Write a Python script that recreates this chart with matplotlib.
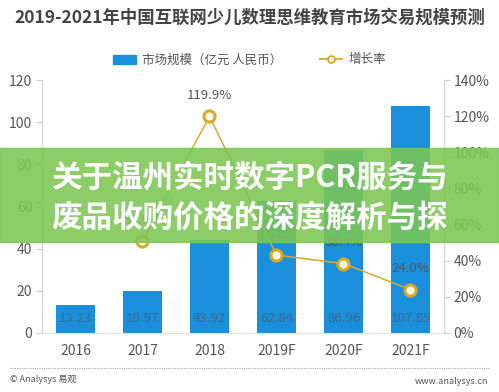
import matplotlib
matplotlib.use("Agg")
import matplotlib.pyplot as plt
from matplotlib.lines import Line2D
from matplotlib.patches import Patch, Rectangle

plt.rcParams['font.family'] = ['Noto Sans CJK SC', 'DejaVu Sans']

# data
years = ['2016', '2017', '2018', '2019F', '2020F', '2021F']
market = [13.23, 19.97, 43.92, 62.84, 86.96, 107.85]
growth = [None, 50.9, 119.9, 43.1, 38.4, 24.0]
left_ticks = [0, 20, 40, 60, 80, 100, 120]
right_ticks = [0, 20, 40, 60, 80, 100, 120, 140]

BLUE = '#1a8fdc'
GOLD = '#d6aa2c'
GRAY = '#555555'

W, H = 499, 392
fig = plt.figure(figsize=(W / 100, H / 100), dpi=100)
fig.patch.set_facecolor('white')

ax = fig.add_axes([42 / W, (H - 333) / H, (444 - 42) / W, (333 - 80) / H])
x = list(range(len(years)))
ax.bar(x, market, width=0.57, color=BLUE, zorder=2)
for xi, v in zip(x, market):
    ax.text(xi, 7, f'{v:.2f}', ha='center', va='center', fontsize=9.5,
            color='#3d6a8c', zorder=3)

ax.set_xlim(-0.5, len(years) - 0.5)
ax.set_ylim(0, 120)
ax.set_yticks(left_ticks)
ax.set_xticks(x)
ax.set_xticklabels(years)
ax.tick_params(axis='x', length=0, pad=8, labelsize=10, colors=GRAY)
ax.tick_params(axis='y', length=4, width=0.8, color='#cccccc', labelsize=10,
               labelcolor=GRAY, pad=3)
for s in ['top', 'right']:
    ax.spines[s].set_visible(False)
ax.spines['left'].set_color('#d5d5d5')
ax.spines['bottom'].set_color('#e0e0e0')

ax2 = ax.twinx()
gx = [xi for xi, g in zip(x, growth) if g is not None]
gy = [g for g in growth if g is not None]
ax2.plot(gx, gy, color=GOLD, lw=1.1, marker='o', ms=8, mfc='#fffbe8',
         mec=GOLD, mew=2.2, zorder=4)
for xi, g in zip(gx, gy):
    ax2.text(xi, g + 8, f'{g:.1f}%', ha='center', va='bottom', fontsize=9.5,
             color=GRAY)
ax2.set_ylim(0, 140)
ax2.set_yticks(right_ticks)
ax2.set_yticklabels([f'{t}%' for t in right_ticks])
ax2.tick_params(axis='y', length=4, width=0.8, color='#cccccc', labelsize=10,
                labelcolor=GRAY, pad=3)
for s in ['top', 'left', 'bottom']:
    ax2.spines[s].set_visible(False)
ax2.spines['right'].set_color('#d5d5d5')

# title and legend
fig.text(0.5, 1 - 18 / H, '2019-2021年中国互联网少儿数理思维教育市场交易规模预测',
         ha='center', va='center', fontsize=12.5, fontweight='bold', color='#444444')
handles = [Patch(color=BLUE),
           Line2D([0], [0], color=GOLD, lw=1.3, marker='o', ms=5, mfc='white',
                  mec=GOLD, mew=1.3)]
fig.legend(handles, ['市场规模（亿元 人民币）', '增长率'], ncol=2, frameon=False,
           loc='center', bbox_to_anchor=(0.5, 1 - 60 / H), fontsize=9,
           labelcolor=GRAY, columnspacing=3, handlelength=1.8, handletextpad=0.5)

# footer
fig.add_artist(Line2D([10 / W, 490 / W], [1 - 368 / H] * 2, color='#aaaaaa',
                      lw=0.8, ls=(0, (1, 1))))
fig.text(10 / W, 1 - 380 / H, '© Analysys 易观', fontsize=6.5, color=GRAY,
         va='center')
fig.text(488 / W, 1 - 382 / H, 'www.analysys.cn', fontsize=6.5, color=GRAY,
         va='center', ha='right')

# green banner overlay
fig.add_artist(Rectangle((0, 1 - 242 / H), 1, (242 - 148) / H,
                         transform=fig.transFigure, color='#7cc653', alpha=0.88,
                         zorder=10))
fig.text(0.5, 1 - 178 / H, '关于温州实时数字PCR服务与', ha='center', va='center',
         fontsize=22, fontweight='bold', color='white', zorder=11)
fig.text(0.5, 1 - 218 / H, '废品收购价格的深度解析与探', ha='center', va='center',
         fontsize=22, fontweight='bold', color='white', zorder=11)

fig.savefig('out.png', dpi=100)
